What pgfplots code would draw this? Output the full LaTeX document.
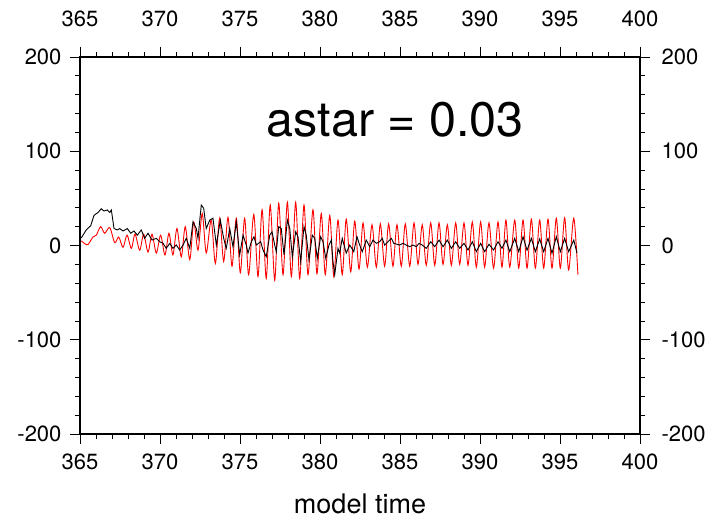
\documentclass[border=0pt]{standalone}
\usepackage{fontspec}
\setmainfont{TeX Gyre Heros}
\usepackage{pgfplots}
\pgfplotsset{compat=1.18}
\usetikzlibrary{calc}
\begin{document}
\begin{tikzpicture}
\pgfplotsset{common/.style={
 width=560pt, height=377pt, scale only axis,
 xmin=365, xmax=400, ymin=-200, ymax=200,
 xtick={365,370,375,380,385,390,395,400}, ytick={-200,-100,0,100,200},
 xticklabels={365,370,375,380,385,390,395,400},
 yticklabels={-200,-100,0,100,200},
 minor x tick num=4, minor y tick num=4,
 tick align=outside, major tick length=10pt, minor tick length=5pt,
 every tick/.style={black, line width=0.8pt},
 axis line style={line width=1.2pt},
 ticklabel style={font=\fontsize{22}{26}\selectfont},
 xtick pos=both, ytick pos=both,
}}
\begin{axis}[common, xticklabel pos=lower, yticklabel pos=left,
  xticklabel style={yshift=-6pt}, yticklabel style={xshift=-5pt},
  xlabel={model time}, xlabel style={font=\fontsize{27}{31}\selectfont, yshift=-17pt}]
\addplot[red, line width=0.9pt, smooth] coordinates {
(365.08,5) (365.29,2) (365.5,1) (365.81,9) (366.02,11) (366.29,20) (366.54,13) (366.86,19) (367.17,3) (367.42,9) (367.69,-2) (367.94,11) (368.21,-3) (368.44,12) (368.73,-5) (368.98,12) (369.25,-7) (369.5,12) (369.77,-8) (370.04,11) (370.31,-10)
(370.56,13) (370.81,-10) (371.06,18) (371.33,-12) (371.58,20) (371.86,-15) (372.11,25) (372.375,-5) (372.64,34) (372.89,-8) (373.2,27) (373.46,-19) (373.73,29) (373.98,-17) (374.25,30) (374.5,-22) (374.77,29) (375.02,-29) (375.29,29) (375.54,-31) (375.86,33) (376.125,-33) (376.38,38) (376.64,-35) (376.89,43) (377.17,-37) (377.42,45) (377.69,-31) (377.96,46) (378.21,-33) (378.48,46) (378.73,-35) (379.0,43) (379.25,-31) (379.56,38) (379.81,-30) (380.08,34) (380.33,-31) (380.61,32) (380.86,-33) (381.125,27) (381.39,-31) (381.64,28) (381.92,-28) (382.17,26) (382.44,-25) (382.69,24) (382.96,-23) (383.25,22) (383.52,-23) (383.77,23) (384.04,-22) (384.29,23) (384.56,-22) (384.81,22) (385.08,-22) (385.33,23) (385.61,-22) (385.875,24) (386.125,-20) (386.39,22) (386.64,-21) (386.92,24) (387.17,-21) (387.44,24) (387.69,-20) (387.96,22) (388.21,-21) (388.48,24) (388.73,-20) (389.0,24) (389.25,-21) (389.52,25) (389.77,-23) (390.04,25) (390.29,-23) (390.56,24) (390.85,-24) (391.125,25) (391.375,-23) (391.62,27) (391.86,-23) (392.17,27) (392.42,-24) (392.69,27) (392.94,-24) (393.21,28) (393.46,-24) (393.73,27) (393.98,-24) (394.25,28) (394.5,-24) (394.77,29) (395.02,-24) (395.29,29.5) (395.54,-26) (395.86,29) (396.12,-31)
};
\addplot[black, line width=0.9pt] coordinates {
(365.08,8) (365.39,16.5) (365.67,21) (365.875,32) (366.125,35) (366.33,39) (366.5,36.6) (366.71,37.7) (366.86,35) (366.96,37.7) (367.125,18) (367.33,16.5) (367.48,18) (367.69,15.4) (367.96,18) (368.17,13) (368.375,15.4) (368.58,11) (368.83,16.5) (369.04,7.6) (369.25,13) (369.5,5.8) (369.77,7.6) (369.98,4) (370.19,2.3) (370.39,-3) (370.61,2.3) (370.81,-3) (371.02,0.5) (371.23,-4.8) (371.44,0.5) (371.64,7.6) (371.86,-3) (372.06,25) (372.27,18) (372.375,7.6) (372.58,43) (372.73,39.5) (372.89,18) (373.11,27) (373.31,29) (373.52,0.5) (373.77,27) (373.98,7.6) (374.14,-3) (374.36,18) (374.56,-1.3) (374.77,25) (374.98,-10) (375.19,11) (375.39,0.5) (375.5,-8) (375.71,4) (375.875,9.3) (376.02,0.5) (376.29,4) (376.44,-4.8) (376.64,-12) (376.86,11) (377.0,14.6) (377.17,0.5) (377.27,-6.6) (377.42,20) (377.58,18) (377.75,-10) (377.96,27) (378.11,18) (378.27,-12) (378.48,14.6) (378.625,9.3) (378.79,-17) (379.0,20) (379.14,11) (379.31,-15) (379.52,11) (379.67,7.6) (379.83,-13.6) (380.04,9.3) (380.19,4) (380.36,-13.6) (380.56,0.5) (380.71,5.8) (380.81,-17) (380.92,-31) (381.125,-3) (381.23,-8) (381.39,7.6) (381.64,-8) (381.86,0.5) (382.11,-6.6) (382.31,9.3) (382.48,0.5) (382.64,-6.6) (382.79,0.5) (382.89,5.8) (383.11,-1.3) (383.31,5.8) (383.52,2.3) (383.73,4) (383.89,7.6) (384.04,0.5) (384.25,4) (384.46,7.6) (384.61,2.3) (384.98,0.5) (385.19,2.3) (385.39,0.5) (385.61,-1.3) (385.81,0.5) (386.02,-1.3) (386.19,2.3) (386.39,0.5) (386.64,-3) (386.92,4) (387.17,-1.3) (387.44,5.8) (387.69,-1.3) (387.96,5.8) (388.21,-3) (388.48,4) (388.73,-3) (389.0,2.3) (389.25,-4.8) (389.52,4) (389.77,-6.6) (390.04,2.3) (390.29,-6.6) (390.56,1.3) (390.85,-4.8) (391.125,4) (391.375,-3) (391.62,5.8) (391.86,-6.6) (392.17,7.6) (392.42,-6.6) (392.69,9.3) (392.94,-5) (393.21,7.6) (393.46,-6.6) (393.73,7) (393.98,-6.6) (394.25,7.6) (394.5,-8.3) (394.77,9.3) (395.02,-6.6) (395.29,7.6) (395.54,-6.6) (395.86,5.8) (396.06,-8)
};
\node[font=\fontsize{48.5}{52}\selectfont] at (axis cs:384.7,133) {astar = 0.03};
\end{axis}
\begin{axis}[common, xticklabel pos=upper, yticklabel pos=right,
  xticklabel style={yshift=17pt}, yticklabel style={xshift=8pt}]
\end{axis}
\path ($(current axis.south west)+(-80pt,-85pt)$) rectangle ($(current axis.north east)+(79pt,57pt)$);
\end{tikzpicture}
\end{document}
